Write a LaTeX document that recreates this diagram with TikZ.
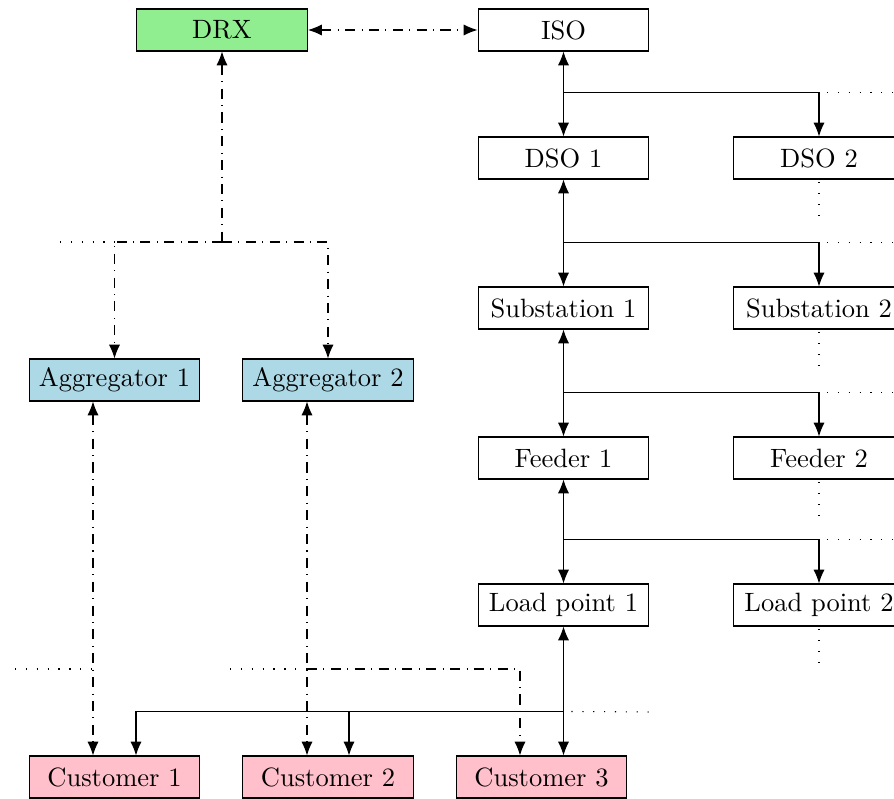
\documentclass[tikz,border=0pt]{standalone}
\usetikzlibrary{arrows.meta,calc}
\definecolor{drxgreen}{HTML}{90EE90}
\definecolor{agblue}{HTML}{ADD8E6}
\definecolor{custpink}{HTML}{FFC0CB}
\tikzset{
  box/.style={draw, minimum width=64.5pt, minimum height=15.85pt, inner sep=0pt},
  ctrl/.style={dash pattern=on 3.8pt off 2.4pt on 0.4pt off 2.4pt},
  dots/.style={dash pattern=on 0.45pt off 3.65pt},
  tip/.style={-{Latex[length=5.2pt,width=4.2pt]}},
  rtip/.style={{Latex[length=5.2pt,width=4.2pt]}-},
  both/.style={{Latex[length=5.2pt,width=4.2pt]}-{Latex[length=5.2pt,width=4.2pt]}},
}
\begin{document}
\begin{tikzpicture}[x=0.3774pt,y=-0.3774pt]
\useasboundingbox (0,0) rectangle (894,799);
\clip (0,0) rectangle (894,799);
% nodes
\node[box,fill=drxgreen] (drx) at (222,30) {DRX};
\node[box] (iso) at (563.5,30) {ISO};
\node[box] (dso1) at (563.5,158) {DSO 1};
\node[box] (dso2) at (819,158) {DSO 2};
\node[box] (sub1) at (563.5,308) {Substation 1};
\node[box] (sub2) at (819,308) {Substation 2};
\node[box] (fd1) at (563.5,458) {Feeder 1};
\node[box] (fd2) at (819,458) {Feeder 2};
\node[box] (lp1) at (563.5,605) {Load point 1};
\node[box] (lp2) at (819,605) {Load point 2};
\node[box,fill=agblue] (ag1) at (114.5,380) {Aggregator 1};
\node[box,fill=agblue] (ag2) at (328,380) {Aggregator 2};
\node[box,fill=custpink] (c1) at (114.5,777) {Customer 1};
\node[box,fill=custpink] (c2) at (328,777) {Customer 2};
\node[box,fill=custpink] (c3) at (541.5,777) {Customer 3};
% DRX - ISO
\draw[ctrl,both] (drx.east) -- (iso.west);
% grid hierarchy
\foreach \u/\l/\r in {iso/dso1/dso2, dso1/sub1/sub2, sub1/fd1/fd2, fd1/lp1/lp2}{
  \draw[both] (\u.south) -- (\l.north);
  \coordinate (j-\l) at ($(\l.north)+(0,-44)$);
  \draw[tip] (j-\l) -| (\r.north);
  \coordinate (e-\l) at (j-\l -| \r.north);
  \draw[dots] ([xshift=3pt]e-\l) -- ++(120,0);
  \draw[dots] ([yshift=-1pt]\r.south) -- ++(0,34);
}
% load point to customers
\draw[both] (lp1.south) -- (lp1.south |- c3.north);
\coordinate (j5) at ($(lp1.south |- c3.north)+(0,-44)$);
\coordinate (c1r) at ($(c1.north)+(21.5,0)$);
\coordinate (c2r) at ($(c2.north)+(21,0)$);
\draw[tip] (j5) -| (c1r);
\draw[tip] (j5 -| c2r) -- (c2r);
\coordinate (d5) at (650,712);
\draw[dots] ([xshift=3pt]j5) -- (d5);
% DRX to aggregators
\coordinate (jd) at (222,242);
\draw[ctrl,rtip] (drx.south) -- (jd);
\draw[ctrl,tip] (jd) -| (ag1.north);
\draw[ctrl,tip] (jd) -| (ag2.north);
\coordinate (dd) at (60,242);
\draw[dots] (dd) -- (jd -| ag1.north);
% aggregators to customers
\coordinate (a1b) at ($(ag1.south)+(-21.5,0)$);
\coordinate (c1l) at ($(c1.north)+(-21.5,0)$);
\coordinate (a2b) at ($(ag2.south)+(-21,0)$);
\coordinate (c2l) at ($(c2.north)+(-21,0)$);
\coordinate (c3l) at ($(c3.north)+(-21.5,0)$);
\draw[ctrl,both] (a1b) -- (c1l);
\draw[ctrl,both] (a2b) -- (c2l);
\coordinate (j6) at (a2b |- 0,669);
\draw[ctrl,tip] (j6) -| (c3l);
\coordinate (d6) at (230,669);
\draw[dots] (d6) -- (j6);
\coordinate (d7) at (15,669);
\draw[dots] (d7) -- (a1b |- d7);
\end{tikzpicture}
\end{document}
